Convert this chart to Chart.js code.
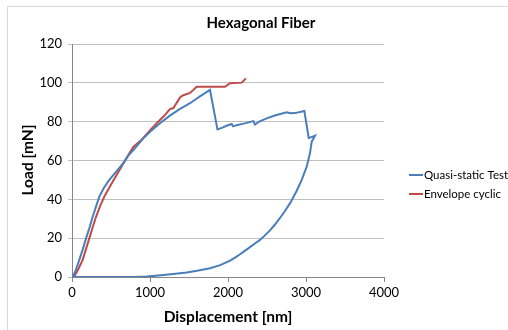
<!DOCTYPE html>
<html>
<head>
<meta charset="utf-8">
<script src="https://cdn.jsdelivr.net/npm/chart.js@4"></script>
<style>
  body { margin: 0; background: #fff; }
  canvas { display: block; }
</style>
</head>
<body>
<canvas id="chart" width="508" height="330"></canvas>
<script>
const chartTitle = "Hexagonal Fiber";
const xTitle = "Displacement [nm]";
const yTitle = "Load [mN]";
const seriesNames = ["Quasi-static Test", "Envelope cyclic"];

// quasi-static test: loading, drop, plateau, unloading
const quasiX = [0, 40, 94, 140, 180, 225, 265, 310, 350, 410, 478, 573, 665, 722, 800, 914, 1020, 1128, 1250, 1380, 1513, 1640, 1769,
  1865, 1920, 1990, 2047, 2065, 2110, 2200, 2325, 2345, 2400, 2496, 2600, 2752, 2800, 2860, 2979,
  3035, 3115, 3073, 3051, 3009, 2945, 2881, 2800, 2730, 2667, 2600, 2538, 2470, 2410, 2340, 2282, 2210, 2150, 2090, 2026, 1900, 1769,
  1620, 1470, 1300, 1171, 957, 800, 0];
const quasiY = [0, 2.5, 8.8, 14.5, 19.9, 25.5, 31, 36.5, 41.4, 46, 50, 54.5, 59, 62.5, 66, 71.4, 75.5, 79.2, 83, 86.5, 89.5, 93, 96.4,
  76, 76.8, 78, 78.8, 77.6, 78.2, 79, 80.3, 78.5, 80, 81.7, 83.2, 84.8, 84.3, 84.4, 85.5,
  71.5, 72.8, 69.7, 63.7, 56.8, 50, 44.4, 38.3, 34, 30.4, 26.9, 24, 21.3, 19.1, 17.1, 15.4, 13.3, 11.6, 10, 8.4, 6.1, 4.5,
  3.3, 2.3, 1.5, 1.0, 0.2, 0, 0];

// envelope of the cyclic test
const cyclicX = [0, 40, 80, 137, 180, 222, 265, 308, 360, 414, 470, 521, 600, 722, 786, 900, 1000, 1085, 1170, 1256, 1300, 1385, 1420, 1513, 1560,
  1598, 1962, 2026, 2175, 2231];
const cyclicY = [0, 1, 4, 8.8, 14.5, 19.9, 25.6, 31, 36.5, 41.4, 45.5, 49, 54.5, 62.8, 67, 71, 75.5, 79.2, 82.5, 86.5, 87, 92.5, 93.5, 94.8, 96.5,
  98, 98, 99.8, 100.1, 102.3];

const xTicks = [0, 1000, 2000, 3000, 4000];
const yTicks = [0, 20, 40, 60, 80, 100, 120];

const colors = ["#4a7ebb", "#be4b48"];
const font = "Lato, 'Open Sans', sans-serif";

function toPoints(xs, ys) {
  return xs.map((x, i) => ({ x: x, y: ys[i] }));
}

const textPlugin = {
  id: "texts",
  afterDraw(chart) {
    const ctx = chart.ctx;
    const area = chart.chartArea;
    ctx.save();
    // frame
    ctx.strokeStyle = "#d9d9d9";
    ctx.lineWidth = 1;
    ctx.strokeRect(7.5, 6.5, 520, 340);
    ctx.fillStyle = "#000";
    ctx.textAlign = "center";
    ctx.textBaseline = "middle";
    ctx.font = "bold 15px " + font;
    ctx.fillText(chartTitle, 261, 23);
    ctx.font = "bold 15.5px " + font;
    ctx.fillText(xTitle, (area.left + area.right) / 2, 317);
    ctx.translate(28, 160);
    ctx.rotate(-Math.PI / 2);
    ctx.fillText(yTitle, 0, 0);
    ctx.restore();

    // legend
    ctx.save();
    ctx.font = "11.5px " + font;
    ctx.textAlign = "left";
    ctx.textBaseline = "middle";
    chart.data.datasets.forEach((ds, i) => {
      const y = 175 + i * 19;
      ctx.strokeStyle = ds.borderColor;
      ctx.lineWidth = 2;
      ctx.beginPath();
      ctx.moveTo(409, y);
      ctx.lineTo(423, y);
      ctx.stroke();
      ctx.fillStyle = "#000";
      ctx.fillText(ds.label, 424, y);
    });
    ctx.restore();
  }
};

new Chart(document.getElementById("chart"), {
  type: "scatter",
  data: {
    datasets: [
      {
        label: seriesNames[0],
        data: toPoints(quasiX, quasiY),
        borderColor: colors[0],
        backgroundColor: colors[0],
        showLine: true,
        borderWidth: 2,
        pointRadius: 0,
        tension: 0
      },
      {
        label: seriesNames[1],
        data: toPoints(cyclicX, cyclicY),
        borderColor: colors[1],
        backgroundColor: colors[1],
        showLine: true,
        borderWidth: 2,
        pointRadius: 0,
        tension: 0
      }
    ]
  },
  options: {
    responsive: false,
    animation: false,
    layout: { padding: { left: 0, right: 124, top: 44, bottom: 0 } },
    plugins: {
      legend: { display: false },
      title: { display: false },
      tooltip: { enabled: false }
    },
    scales: {
      x: {
        type: "linear",
        min: 0,
        max: 4000,
        afterBuildTicks: s => { s.ticks = xTicks.map(v => ({ value: v })); },
        afterFit: s => { s.height = 53; },
        grid: { drawOnChartArea: false, drawTicks: true, tickLength: 5, color: "#868686" },
        border: { color: "#868686", width: 1 },
        ticks: { color: "#000", font: { family: font, size: 13 }, padding: 3, maxRotation: 0, callback: v => String(v) }
      },
      y: {
        min: 0,
        max: 120,
        afterBuildTicks: s => { s.ticks = yTicks.map(v => ({ value: v })); },
        afterFit: s => { s.width = 72; },
        grid: { color: "#c0c0c0", tickLength: 4, lineWidth: 1 },
        border: { color: "#868686", width: 1 },
        ticks: { color: "#000", font: { family: font, size: 13 }, padding: 6, callback: v => String(v) }
      }
    }
  },
  plugins: [textPlugin]
});
</script>
</body>
</html>
